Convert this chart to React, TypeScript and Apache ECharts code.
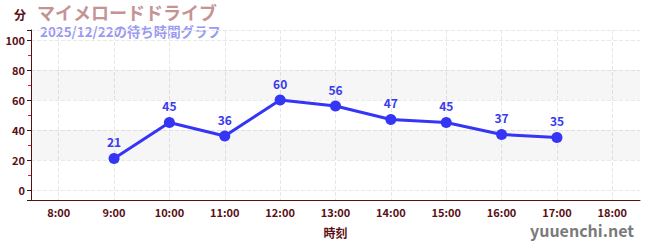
import React, { useEffect, useRef } from "react";
import * as echarts from "echarts";

const categories = ["8:00", "9:00", "10:00", "11:00", "12:00", "13:00", "14:00", "15:00", "16:00", "17:00", "18:00"];
const waitTimes: (number | null)[] = [null, 21, 45, 36, 60, 56, 47, 45, 37, 35, null];
const title = "マイメロードドライブ";
const subtitle = "2025/12/22の待ち時間グラフ";
const yName = "分";
const xName = "時刻";
const watermark = "yuuenchi.net";
const bands: [number, number][] = [[20, 40], [60, 80]];

const FONT = "'Noto Sans CJK JP', 'Noto Sans', sans-serif";
const DARK = "#5a0f14";

export default function App() {
  const ref = useRef<HTMLDivElement>(null);
  useEffect(() => {
    if (!ref.current) return;
    const chart = echarts.init(ref.current, null, { renderer: "svg" });
    chart.setOption({
      animation: false,
      backgroundColor: "#ffffff",
      textStyle: { fontFamily: FONT },
      grid: { left: 31, right: 10, top: 30, bottom: 50 },
      graphic: [
        { type: "text", left: 14, top: 8, style: { text: yName, fill: DARK, font: `bold 12px ${FONT}` } },
        { type: "text", left: 37, top: 3, style: { text: title, fill: "#c49494", font: `bold 18px ${FONT}` } },
        { type: "text", left: 40, top: 24, style: { text: subtitle, fill: "#9a9af2", font: `bold 13.4px ${FONT}` } },
        { type: "text", right: 16, top: 222, style: { text: watermark, fill: "#7a7a7a", font: `bold 16px ${FONT}` } },
      ],
      xAxis: {
        type: "category",
        data: categories,
        boundaryGap: true,
        name: xName,
        nameLocation: "middle",
        nameGap: 26,
        nameTextStyle: { color: DARK, fontWeight: "bold", fontSize: 12, fontFamily: FONT },
        axisLine: { onZero: false, lineStyle: { color: DARK, width: 1 } },
        axisTick: { alignWithLabel: true, length: 4, lineStyle: { color: "#555" } },
        axisLabel: { color: DARK, fontWeight: "bold", fontSize: 11, margin: 6, fontFamily: FONT },
        splitLine: { show: true, alignWithLabel: true, lineStyle: { color: "#e8e8e8", type: "dashed" } },
      },
      yAxis: {
        type: "value",
        min: -6.67,
        max: 106.67,
        axisLine: { show: true, lineStyle: { color: DARK, width: 1 } },
        axisTick: { show: true, length: 4, lineStyle: { color: "#222" } },
        minorTick: { show: true, splitNumber: 2, length: 3, lineStyle: { color: "#e02020" } },
        axisLabel: {
          color: DARK, fontWeight: "bold", fontSize: 11, margin: 6, fontFamily: FONT,
          showMinLabel: false, showMaxLabel: false,
          formatter: (v: number) => (Math.abs(v - Math.round(v)) < 1e-6 && v % 20 === 0 ? String(v) : ""),
        },
        splitLine: { show: true, lineStyle: { color: "#e8e8e8", type: "dashed" } },
      },
      series: [
        {
          type: "line",
          data: waitTimes,
          connectNulls: false,
          symbol: "circle",
          symbolSize: 11,
          itemStyle: { color: "#3535f5" },
          lineStyle: { color: "#3535f5", width: 3 },
          label: { show: true, position: "top", color: "#3a3aee", fontWeight: "bold", fontSize: 12, distance: 5, fontFamily: FONT },
          markArea: {
            silent: true,
            itemStyle: { color: "rgba(0,0,0,0.035)" },
            data: bands.map(([a, b]) => [{ yAxis: a }, { yAxis: b }]),
          },
        },
      ],
    });
    return () => chart.dispose();
  }, []);
  return <div ref={ref} style={{ width: 650, height: 250, position: "absolute", left: 0, top: 0 }} />;
}
